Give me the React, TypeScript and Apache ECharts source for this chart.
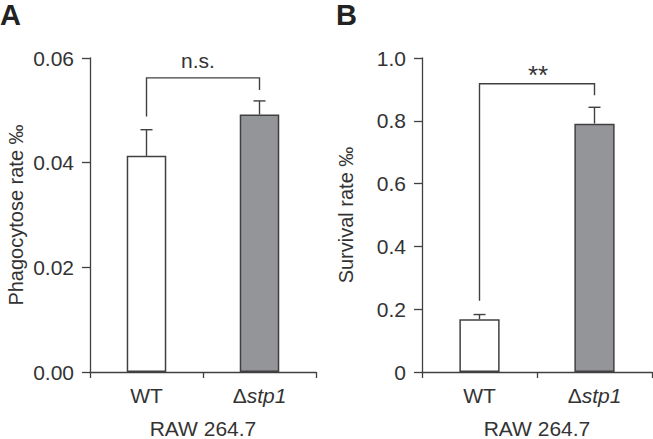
import React, { useEffect, useRef } from "react";
import * as echarts from "echarts";

const categories = ["WT", "Δstp1"];
const phagoMeans = [0.0413, 0.0492];
const phagoUpper = [0.0463, 0.0518];
const survMeans = [0.168, 0.791];
const survUpper = [0.183, 0.843];
const phagoTicks = { min: 0, max: 0.06, interval: 0.02 };
const survTicks = { min: 0, max: 1.0, interval: 0.2 };
// bracket: [leftIdx, leftBottom, rightIdx, rightBottom, top]
const phagoBracket = [0, 0.0488, 1, 0.0539, 0.0562];
const survBracket = [0, 0.227, 1, 0.881, 0.918];
const phagoSig = "n.s.";
const survSig = "**";
const panelLetters = ["A", "B"];
const yNames = ["Phagocytose rate ‰", "Survival rate ‰"];
const xName = "RAW 264.7";

const FONT = "'Liberation Sans', Arial, sans-serif";
const TXT = "#333333";
const LINE = "#404040";
const BAR_COLORS = ["#ffffff", "#939598"];

export default function App() {
  const ref = useRef<HTMLDivElement>(null);
  useEffect(() => {
    if (!ref.current) return;
    const chart = echarts.init(ref.current, null, { renderer: "svg" });

    const xAxisBase = (gridIndex: number) => ({
      type: "category",
      gridIndex,
      data: categories,
      name: xName,
      nameLocation: "middle",
      nameGap: 46,
      nameTextStyle: { fontFamily: FONT, fontSize: 21, color: TXT },
      axisLine: { show: true, lineStyle: { color: LINE, width: 1.3 } },
      axisTick: { show: true, length: 6, inside: false, interval: 0, lineStyle: { color: LINE, width: 1.3 } },
      axisLabel: {
        interval: 0,
        hideOverlap: false,
        fontFamily: FONT,
        fontSize: 21,
        color: TXT,
        margin: 13,
        formatter: (v: string) =>
          v.charAt(0) === "Δ" ? "{up|Δ}{it|" + v.slice(1) + "}" : v,
        rich: {
          up: { fontFamily: FONT, fontSize: 21, color: TXT },
          it: { fontStyle: "italic", fontFamily: FONT, fontSize: 21, color: TXT },
        },
      },
      splitLine: { show: false },
    });

    const yAxisBase = (gridIndex: number, t: any, name: string, fmt: (v: number) => string, gap: number) => ({
      type: "value",
      gridIndex,
      min: t.min,
      max: t.max,
      interval: t.interval,
      name,
      nameLocation: "middle",
      nameGap: gap,
      nameTextStyle: { fontFamily: FONT, fontSize: 20, color: TXT },
      axisLine: { show: true, lineStyle: { color: LINE, width: 1.3 } },
      axisTick: { show: true, length: 8, inside: false, lineStyle: { color: LINE, width: 1.3 } },
      axisLabel: { fontFamily: FONT, fontSize: 21, color: TXT, margin: 16, formatter: fmt },
      splitLine: { show: false },
    });

    const errorSeries = (idx: number, means: number[], upper: number[]) => ({
      type: "custom",
      xAxisIndex: idx,
      yAxisIndex: idx,
      z: 1,
      data: means.map((m, i) => [i, m, upper[i]]),
      encode: { x: 0, y: [1, 2] },
      renderItem: (params: any, api: any) => {
        const i = api.value(0);
        const p1 = api.coord([i, api.value(1)]);
        const p2 = api.coord([i, api.value(2)]);
        const style = { stroke: LINE, lineWidth: 1.4 };
        return {
          type: "group",
          children: [
            { type: "line", shape: { x1: p1[0], y1: p1[1], x2: p2[0], y2: p2[1] }, style },
            { type: "line", shape: { x1: p2[0] - 6, y1: p2[1], x2: p2[0] + 6, y2: p2[1] }, style },
          ],
        };
      },
    });

    const bracketSeries = (idx: number, b: number[], label: string, textOffset: number, dx: number, fs: number) => ({
      type: "custom",
      xAxisIndex: idx,
      yAxisIndex: idx,
      z: 3,
      data: [b],
      encode: { x: [0, 2], y: [1, 3, 4] },
      renderItem: (params: any, api: any) => {
        const lb = api.coord([api.value(0), api.value(1)]);
        const rb = api.coord([api.value(2), api.value(3)]);
        const lt = api.coord([api.value(0), api.value(4)]);
        const rt = api.coord([api.value(2), api.value(4)]);
        return {
          type: "group",
          children: [
            {
              type: "polyline",
              shape: { points: [lb, lt, rt, rb] },
              style: { stroke: LINE, lineWidth: 1.4, fill: null },
            },
            {
              type: "text",
              x: (lt[0] + rt[0]) / 2 + dx,
              y: lt[1] - textOffset,
              style: {
                text: label,
                fontFamily: FONT,
                fontSize: fs,
                fill: TXT,
                align: "center",
                verticalAlign: "bottom",
              },
            },
          ],
        };
      },
    });

    const barSeries = (idx: number, means: number[]) => ({
      type: "bar",
      xAxisIndex: idx,
      yAxisIndex: idx,
      barWidth: "35%",
      z: 2,
      data: means.map((v, i) => ({
        value: v,
        itemStyle: { color: BAR_COLORS[i], borderColor: LINE, borderWidth: 1.5 },
      })),
    });

    chart.setOption({
      animation: false,
      backgroundColor: "#ffffff",
      textStyle: { fontFamily: FONT },
      grid: [
        { left: 90, top: 58, width: 226, height: 314, outerBoundsMode: "none", containLabel: false },
        { left: 422, top: 58, width: 230, height: 314, outerBoundsMode: "none", containLabel: false },
      ],
      xAxis: [xAxisBase(0), xAxisBase(1)],
      yAxis: [
        yAxisBase(0, phagoTicks, yNames[0], (v: number) => v.toFixed(2), 64),
        yAxisBase(1, survTicks, yNames[1], (v: number) => (v === 0 ? "0" : v.toFixed(1)), 66),
      ],
      graphic: [
        { type: "text", left: 0, top: 0, style: { text: panelLetters[0], fontFamily: FONT, fontSize: 29, fontWeight: "bold", fill: "#222" } },
        { type: "text", left: 336, top: 0, style: { text: panelLetters[1], fontFamily: FONT, fontSize: 29, fontWeight: "bold", fill: "#222" } },
      ],
      series: [
        barSeries(0, phagoMeans),
        errorSeries(0, phagoMeans, phagoUpper),
        bracketSeries(0, phagoBracket, phagoSig, 7, -5, 21),
        barSeries(1, survMeans),
        errorSeries(1, survMeans, survUpper),
        bracketSeries(1, survBracket, survSig, -4, 1, 26),
      ],
    });
    return () => chart.dispose();
  }, []);
  return (
    <div
      ref={ref}
      style={{ position: "fixed", left: 0, top: 0, width: 653, height: 439, background: "#fff" }}
    />
  );
}
